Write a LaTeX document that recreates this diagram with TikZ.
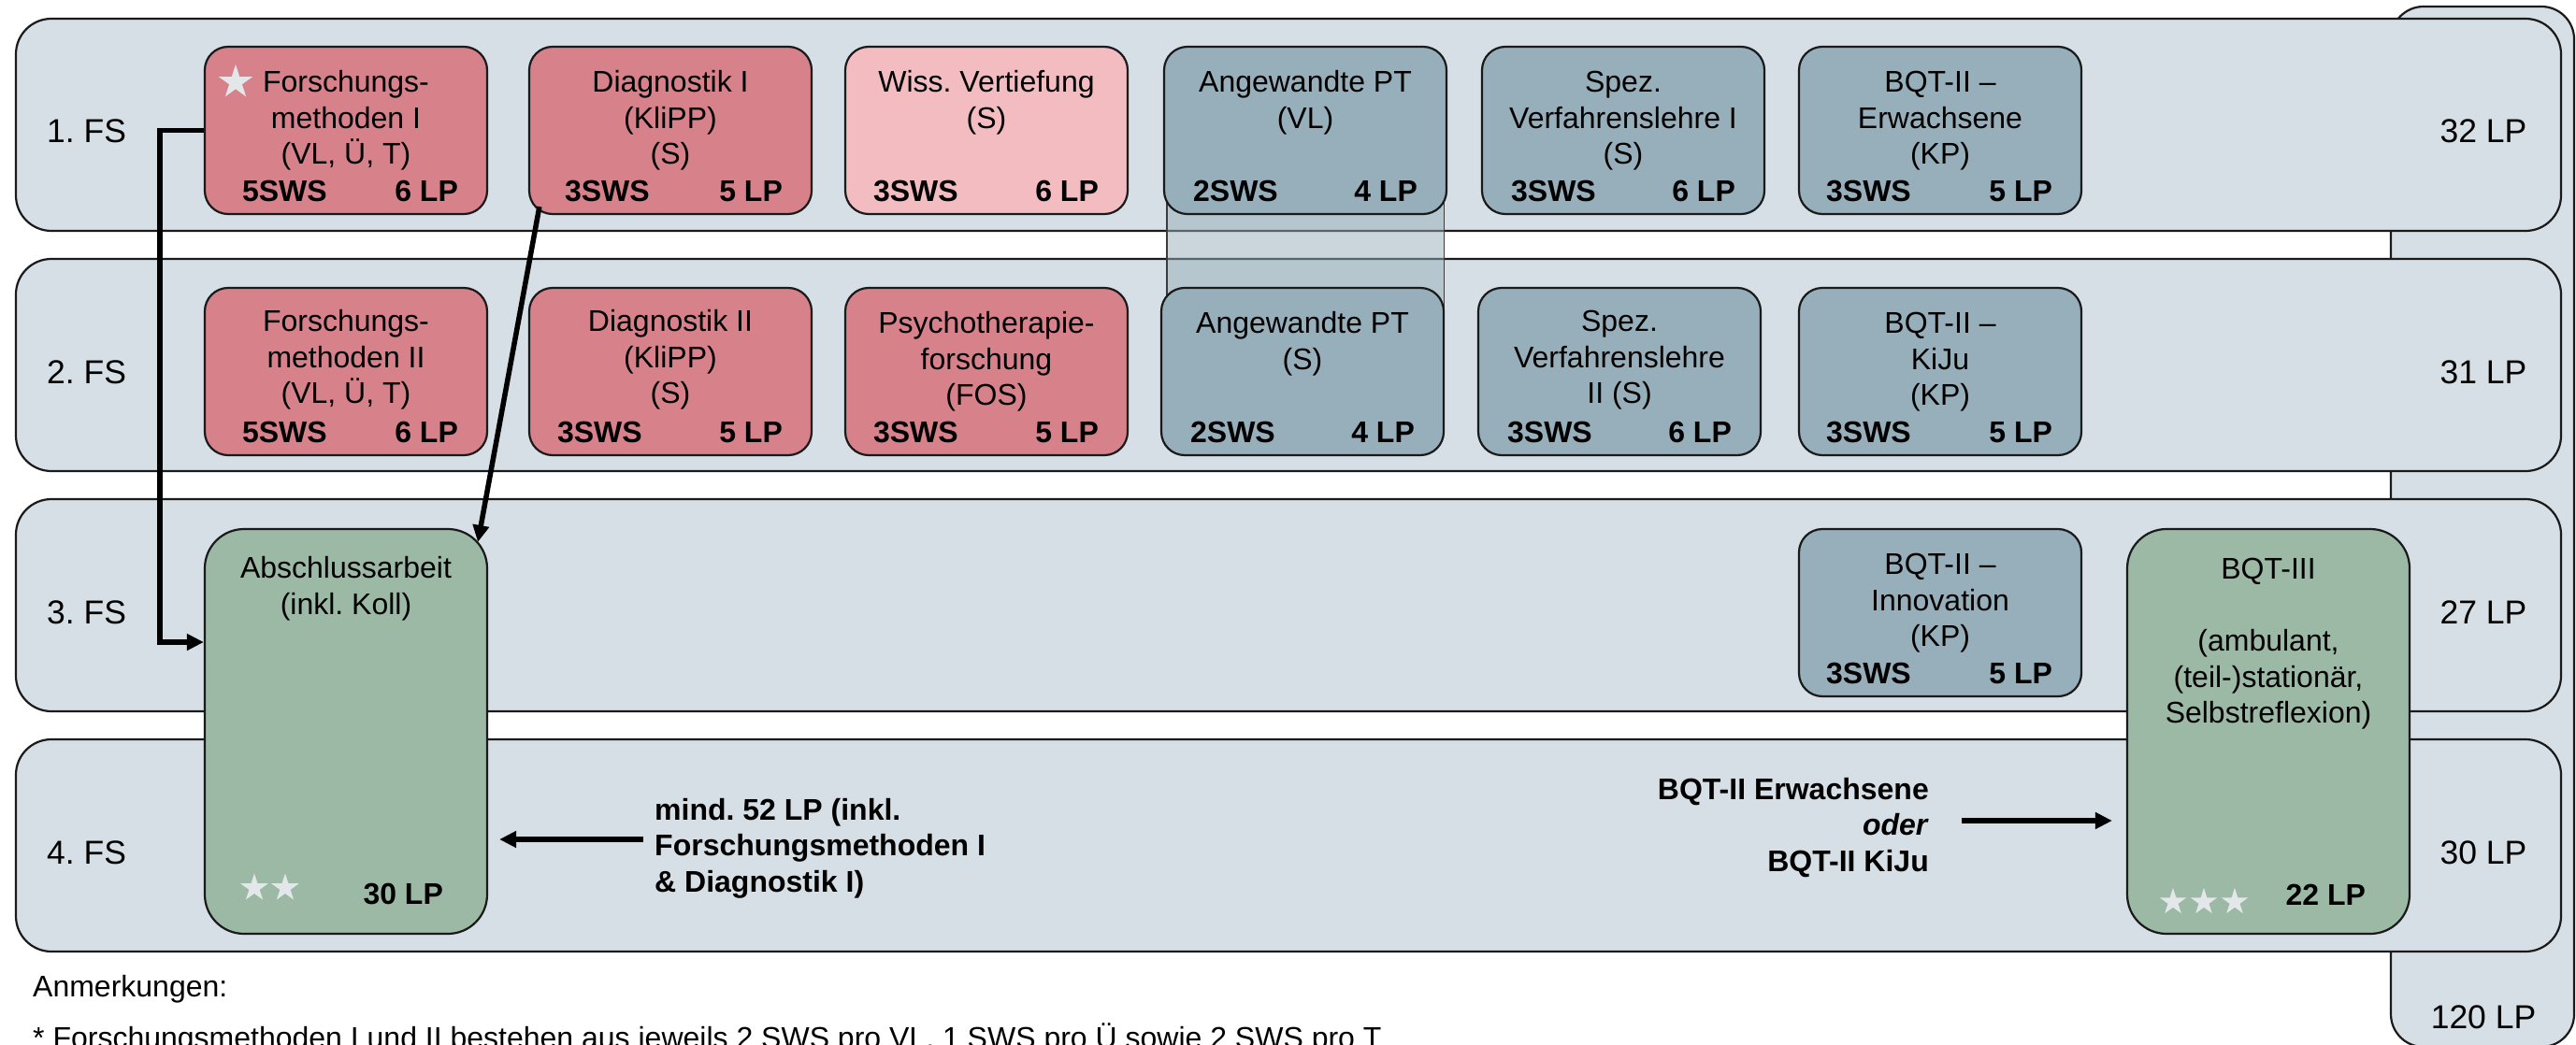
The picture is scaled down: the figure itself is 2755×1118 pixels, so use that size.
\documentclass[tikz,border=0pt]{standalone}
\usepackage{fontspec}
\setmainfont{Liberation Sans}
\usetikzlibrary{shapes.geometric,arrows.meta,calc}
\frenchspacing

\definecolor{lanecol}{HTML}{D6DFE5}
\definecolor{redcol}{HTML}{D7828A}
\definecolor{pinkcol}{HTML}{F2BCC1}
\definecolor{bluecol}{HTML}{97AFBB}
\definecolor{greencol}{HTML}{9BB9A5}
\definecolor{starcol}{HTML}{E4E7E9}
\definecolor{linecol}{HTML}{1A1A1A}

\pgfdeclarelayer{back}
\pgfdeclarelayer{mid}
\pgfsetlayers{back,mid,main}

% #1 name, #2 fill, #3 left x, #4 top y, #5 text, #6 sws, #7 lp, #8 sws offset, #9 last baseline below top
\newcommand{\modul}[9]{%
  \node[box, fill=#2] (#1) at (#3+151,#4+89.5) {};
  \node[txt, anchor=base] (#1-t) at ([yshift=-#9pt]#1.north) {#5};
  \node[bold, anchor=base west] (#1-s) at ([xshift=#8pt,yshift=15pt]#1.south west) {#6};
  \node[bold, anchor=base east] (#1-l) at ([xshift=-32pt,yshift=15pt]#1.south east) {#7};
}

\begin{document}
\frenchspacing
\begin{tikzpicture}[x=1pt,y=-1pt,
  lane/.style={draw=linecol, line width=2.2pt, fill=lanecol, rounded corners=38pt, inner sep=0pt, minimum width=2722pt, minimum height=227pt},
  box/.style={draw=linecol, line width=2.2pt, rounded corners=25pt, minimum width=302pt, minimum height=179pt, inner sep=0pt},
  tallbox/.style={draw=linecol, line width=2.2pt, rounded corners=42pt, minimum width=302pt, minimum height=433pt, inner sep=0pt, fill=greencol},
  txt/.style={font=\fontsize{32}{38.5}\selectfont, align=center, inner sep=0pt},
  bold/.style={font=\fontsize{32}{38.5}\selectfont\bfseries, inner sep=0pt},
  fslab/.style={font=\fontsize{35.5}{42}\selectfont, inner sep=0pt},
  arr/.style={line width=5.5pt, draw=black, -{Triangle[length=18pt,width=17pt]}},
  starshape/.style={star, star points=5, star point ratio=2.618, fill=starcol, draw=none, inner sep=0pt, minimum size=#1},
]
\useasboundingbox (0,0) rectangle (2755,1118);

\begin{pgfonlayer}{back}
\fill[white] (0,0) rectangle (2755,1118);
% total column
\node[draw=linecol, line width=2.2pt, fill=lanecol, rounded corners=35pt, minimum width=196pt, minimum height=1113pt, inner sep=0pt] (total) at (2655,563.5) {};
% lanes
\node[lane] (fs1) at (1378,133.5) {};
\node[lane] (fs2) at (1378,390.5) {};
\node[lane] (fs3) at (1378,647.5) {};
\node[lane] (fs4) at (1378,904.5) {};
\end{pgfonlayer}

% lane labels
\node[fslab, anchor=base west] (l1) at (50,153) {1. FS};
\node[fslab, anchor=base west] (l2) at (50,410) {2. FS};
\node[fslab, anchor=base west] (l3) at (50,667) {3. FS};
\node[fslab, anchor=base west] (l4) at (50,924) {4. FS};
\node[fslab, anchor=base] (lp1) at (2656,153) {32 LP};
\node[fslab, anchor=base] (lp2) at (2656,410) {31 LP};
\node[fslab, anchor=base] (lp3) at (2656,667) {27 LP};
\node[fslab, anchor=base] (lp4) at (2656,924) {30 LP};
\node[fslab, anchor=base] (lpt) at (2656,1100) {120 LP};

% row 1
\modul{fm1}{redcol}{219}{50}{Forschungs-\\methoden I\\(VL, Ü, T)}{5SWS}{6 LP}{41}{127}
\modul{d1}{redcol}{566}{50}{Diagnostik I\\(KliPP)\\(S)}{3SWS}{5 LP}{39}{127}
\modul{wv}{pinkcol}{904}{50}{Wiss. Vertiefung\\(S)}{3SWS}{6 LP}{31}{88.5}
\modul{apvl}{bluecol}{1245}{50}{Angewandte PT\\(VL)}{2SWS}{4 LP}{32}{88.5}
\modul{svl1}{bluecol}{1585}{50}{Spez.\\Verfahrenslehre I\\(S)}{3SWS}{6 LP}{32}{127}
\modul{bqe}{bluecol}{1924}{50}{BQT-II –\\Erwachsene\\(KP)}{3SWS}{5 LP}{30}{127}

% row 2
\modul{fm2}{redcol}{219}{308}{Forschungs-\\methoden II\\(VL, Ü, T)}{5SWS}{6 LP}{41}{125}
\modul{d2}{redcol}{566}{308}{Diagnostik II\\(KliPP)\\(S)}{3SWS}{5 LP}{31}{125}
\modul{ptf}{redcol}{904}{308}{Psychotherapie-\\forschung\\(FOS)}{3SWS}{5 LP}{31}{127}
\modul{aps}{bluecol}{1242}{308}{Angewandte PT\\(S)}{2SWS}{4 LP}{32}{88.5}
\modul{svl2}{bluecol}{1581}{308}{Spez.\\Verfahrenslehre\\II (S)}{3SWS}{6 LP}{32}{125}
\modul{bqk}{bluecol}{1924}{308}{BQT-II –\\KiJu\\(KP)}{3SWS}{5 LP}{30}{127}

% band between the two Angewandte PT modules
\begin{pgfonlayer}{mid}
\draw[draw=linecol!85, line width=1.2pt, fill=bluecol, fill opacity=0.5] ($(apvl.west)+(4,0)$) rectangle ($(aps.east)+(-1,0)$);
\end{pgfonlayer}

% row 3
\modul{bqi}{bluecol}{1924}{566}{BQT-II –\\Innovation\\(KP)}{3SWS}{5 LP}{30}{127}

% tall modules
\node[tallbox] (absch) at (370,782.5) {};
\node[txt, anchor=base] (absch-t) at ([yshift=-92.5pt]absch.north) {Abschlussarbeit\\(inkl. Koll)};
\node[bold, anchor=base east] (absch-l) at ([xshift=-48pt,yshift=33pt]absch.south east) {30 LP};
\node[tallbox] (bqt3) at (2426,782.5) {};
\node[txt, anchor=base] (bqt3-t) at ([yshift=-209pt]bqt3.north) {BQT-III\\[38.5pt](ambulant,\\(teil-)stationär,\\Selbstreflexion)};
\node[bold, anchor=base east] (bqt3-l) at ([xshift=-48pt,yshift=32pt]bqt3.south east) {22 LP};

% stars
\node[starshape=38pt] (st1) at (252,88) {};
\node[starshape=31pt] (st2) at (272,950) {};
\node[starshape=31pt] (st3) at (305,950) {};
\node[starshape=30pt] (st4) at (2324,965) {};
\node[starshape=30pt] (st5) at (2357,965) {};
\node[starshape=30pt] (st6) at (2390,965) {};

% free texts
\node[bold, align=left, anchor=base west] (mind) at (700,954) {mind. 52 LP (inkl.\\Forschungsmethoden I\\\& Diagnostik I)};
\node[bold, align=right, anchor=base east] (oder) at (2063,932) {BQT-II Erwachsene\\\textit{oder}\\BQT-II KiJu};
\node[txt, anchor=base west] (anm) at (35,1066) {Anmerkungen:};
\node[txt, anchor=base west] (fn) at (35,1121) {* Forschungsmethoden I und II bestehen aus jeweils 2 SWS pro VL, 1 SWS pro Ü sowie 2 SWS pro T};

% connectors
\draw[arr] (fm1.west) -- ++(-47,0) |- ([yshift=95.5pt]absch.west);
\draw[arr] ([xshift=12pt,yshift=9pt]d1.south west) -- ([xshift=-11pt,yshift=-15pt]absch.north east);
\coordinate (m0) at (688,898);
\draw[arr] (m0) -- ([xshift=12pt]m0 -| absch.east);
\coordinate (b0) at (2098,878);
\draw[arr] (b0) -- ([xshift=-15pt]b0 -| bqt3.west);
\end{tikzpicture}
\end{document}
